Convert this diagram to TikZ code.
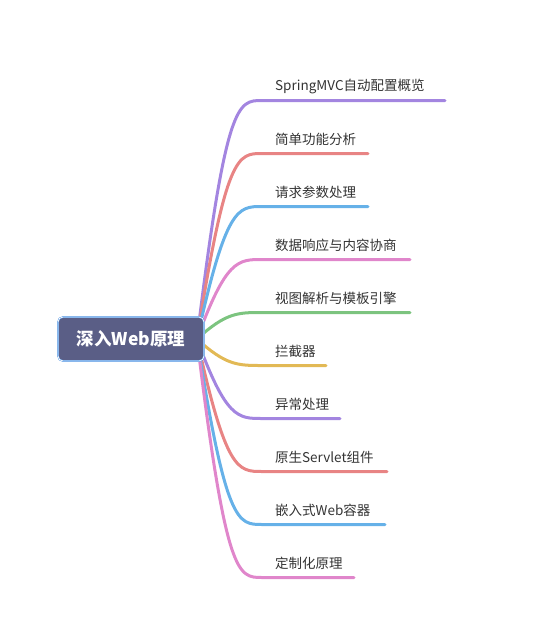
\documentclass[tikz,border=0pt]{standalone}
\usepackage{fontspec}
\setmainfont{Noto Sans CJK SC}
\usetikzlibrary{positioning, backgrounds}

\definecolor{mpurple}{HTML}{A385E0}
\definecolor{mred}{HTML}{E88484}
\definecolor{mblue}{HTML}{66B1E8}
\definecolor{mpink}{HTML}{E086CB}
\definecolor{mgreen}{HTML}{7CC47F}
\definecolor{myellow}{HTML}{E2B955}
\definecolor{rootfill}{HTML}{5A5E86}
\definecolor{rootline}{HTML}{4A90E2}
\definecolor{labeltext}{HTML}{333333}

\begin{document}
\begin{tikzpicture}[x=1pt, y=-1pt]
\tikzstyle{root}=[draw=rootline, double=white, double distance=0.8pt, fill=rootfill, rounded corners=5pt, minimum width=146pt, minimum height=44pt, text=white, font=\fontsize{17.5}{20}\selectfont\bfseries]
\tikzstyle{label}=[anchor=west, inner sep=0pt, text=labeltext, font=\fontsize{13.5}{16}\selectfont]
\tikzstyle{branch}=[line width=3pt, line cap=round]

\useasboundingbox (0,0) rectangle (544,622);

\def \lx {262}
\def \tx {275}
\def \dy {53}

\node[root] (root) at (131, 339) {深入Web原理};
\coordinate (src) at (197, 339);

% branch start and end points
\coordinate (s1) at (\lx, 100.5);    \coordinate (e1) at (445, 100.5);
\coordinate (s2) at (\lx, 153.5);    \coordinate (e2) at (368, 153.5);
\coordinate (s3) at (\lx, 206.5);    \coordinate (e3) at (368, 206.5);
\coordinate (s4) at (\lx, 259.5);    \coordinate (e4) at (410, 259.5);
\coordinate (s5) at (\lx, 312.5);    \coordinate (e5) at (410, 312.5);
\coordinate (s6) at (\lx, 365.5);    \coordinate (e6) at (326, 365.5);
\coordinate (s7) at (\lx, 418.5);    \coordinate (e7) at (340, 418.5);
\coordinate (s8) at (\lx, 471.5);    \coordinate (e8) at (387, 471.5);
\coordinate (s9) at (\lx, 524.5);    \coordinate (e9) at (385, 524.5);
\coordinate (s10) at (\lx, 577.5);   \coordinate (e10) at (354, 577.5);

\node[label] (l1) at (\tx, 86)    {SpringMVC自动配置概览};
\node[label] (l2) at (\tx, 139)   {简单功能分析};
\node[label] (l3) at (\tx, 192)   {请求参数处理};
\node[label] (l4) at (\tx, 245)   {数据响应与内容协商};
\node[label] (l5) at (\tx, 298)   {视图解析与模板引擎};
\node[label] (l6) at (\tx, 351)   {拦截器};
\node[label] (l7) at (\tx, 404)   {异常处理};
\node[label] (l8) at (\tx, 457)   {原生Servlet组件};
\node[label] (l9) at (\tx, 510)   {嵌入式Web容器};
\node[label] (l10) at (\tx, 563)  {定制化原理};

\begin{scope}[on background layer]
\draw[branch, mpurple] (src) .. controls (226, 100.5) and (238, 100.5) .. (s1) -- (e1);
\draw[branch, mred]    (src) .. controls (226, 153.5) and (238, 153.5) .. (s2) -- (e2);
\draw[branch, mblue]   (src) .. controls (226, 206.5) and (238, 206.5) .. (s3) -- (e3);
\draw[branch, mpink]   (src) .. controls (226, 259.5) and (238, 259.5) .. (s4) -- (e4);
\draw[branch, mgreen]  (src) .. controls (226, 312.5) and (238, 312.5) .. (s5) -- (e5);
\draw[branch, myellow] (src) .. controls (226, 365.5) and (238, 365.5) .. (s6) -- (e6);
\draw[branch, mpurple] (src) .. controls (226, 418.5) and (238, 418.5) .. (s7) -- (e7);
\draw[branch, mred]    (src) .. controls (226, 471.5) and (238, 471.5) .. (s8) -- (e8);
\draw[branch, mblue]   (src) .. controls (226, 524.5) and (238, 524.5) .. (s9) -- (e9);
\draw[branch, mpink]   (src) .. controls (226, 577.5) and (238, 577.5) .. (s10) -- (e10);
\end{scope}

\end{tikzpicture}
\end{document}
